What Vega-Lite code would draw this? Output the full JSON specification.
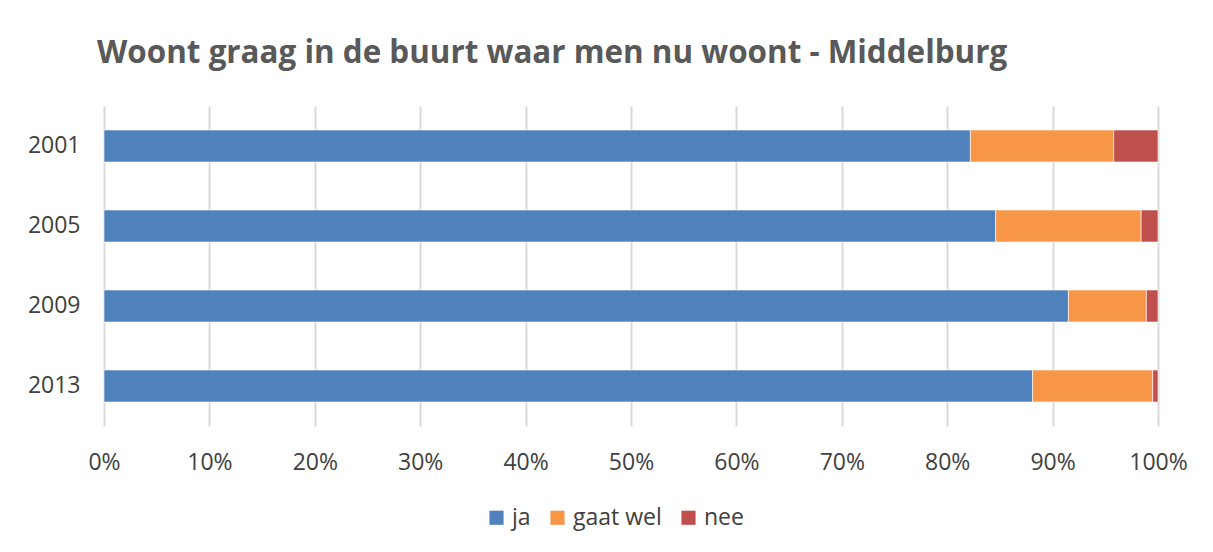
{
  "$schema": "https://vega.github.io/schema/vega-lite/v6.json",
  "width": 1054,
  "height": 320,
  "autosize": {"type": "none"},
  "padding": {"left": 104, "top": 106, "right": 55, "bottom": 126},
  "background": "white",
  "title": {
    "text": "Woont graag in de buurt waar men nu woont - Middelburg",
    "anchor": "start",
    "frame": "group",
    "dx": -7,
    "offset": 37,
    "font": "Open Sans",
    "fontSize": 31.4,
    "fontWeight": "bold",
    "color": "#595959"
  },
  "data": {
    "values": [
      {"jaar": "2001", "antwoord": "ja", "k": 1, "pct": 0.822},
      {"jaar": "2001", "antwoord": "gaat wel", "k": 2, "pct": 0.136},
      {"jaar": "2001", "antwoord": "nee", "k": 3, "pct": 0.042},
      {"jaar": "2005", "antwoord": "ja", "k": 1, "pct": 0.846},
      {"jaar": "2005", "antwoord": "gaat wel", "k": 2, "pct": 0.138},
      {"jaar": "2005", "antwoord": "nee", "k": 3, "pct": 0.016},
      {"jaar": "2009", "antwoord": "ja", "k": 1, "pct": 0.915},
      {"jaar": "2009", "antwoord": "gaat wel", "k": 2, "pct": 0.074},
      {"jaar": "2009", "antwoord": "nee", "k": 3, "pct": 0.011},
      {"jaar": "2013", "antwoord": "ja", "k": 1, "pct": 0.881},
      {"jaar": "2013", "antwoord": "gaat wel", "k": 2, "pct": 0.114},
      {"jaar": "2013", "antwoord": "nee", "k": 3, "pct": 0.005}
    ]
  },
  "mark": {"type": "bar", "stroke": "#ffffff", "strokeWidth": 0.6},
  "encoding": {
    "y": {
      "field": "jaar",
      "type": "nominal",
      "sort": ["2001", "2005", "2009", "2013"],
      "scale": {"paddingInner": 0.6, "paddingOuter": 0.3},
      "axis": {
        "title": null,
        "domain": false,
        "ticks": false,
        "labelPadding": 24,
        "labelFont": "Open Sans",
        "labelFontSize": 23,
        "labelColor": "#404040"
      }
    },
    "x": {
      "field": "pct",
      "type": "quantitative",
      "stack": "zero",
      "scale": {"domain": [0, 1], "nice": false},
      "axis": {
        "title": null,
        "format": ".0%",
        "values": [0, 0.1, 0.2, 0.3, 0.4, 0.5, 0.6, 0.7, 0.8, 0.9, 1],
        "domain": false,
        "ticks": false,
        "grid": true,
        "gridColor": "#d9d9d9",
        "gridWidth": 2,
        "labelPadding": 25,
        "labelFont": "Open Sans",
        "labelFontSize": 23,
        "labelColor": "#404040",
        "labelFlush": false
      }
    },
    "color": {
      "field": "antwoord",
      "type": "nominal",
      "scale": {
        "domain": ["ja", "gaat wel", "nee"],
        "range": ["#4f81bd", "#f79646", "#c0504d"]
      },
      "legend": {
        "title": null,
        "orient": "none",
        "direction": "horizontal",
        "legendX": 381,
        "legendY": 400,
        "symbolType": "square",
        "symbolSize": 200,
        "symbolStrokeWidth": 0,
        "symbolOpacity": 1,
        "labelFont": "Open Sans",
        "labelFontSize": 23,
        "labelColor": "#404040",
        "columnPadding": 15,
        "labelOffset": 4
      }
    },
    "order": {"field": "k", "type": "quantitative"}
  },
  "config": {"view": {"stroke": null}}
}
